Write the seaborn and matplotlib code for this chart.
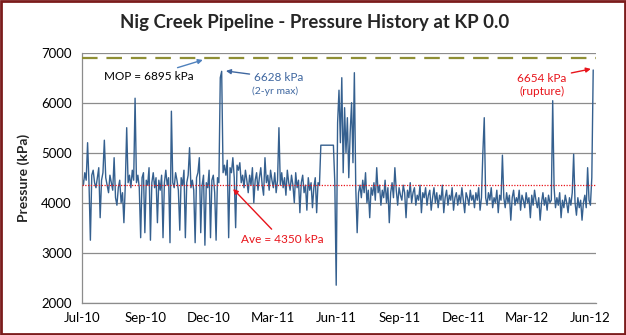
import numpy as np
import pandas as pd
import matplotlib
matplotlib.use("Agg")
import matplotlib.pyplot as plt
from matplotlib.patches import Rectangle
import seaborn as sns

# ---------------- data ----------------
start_date = "2010-07-01"
step_days = 2
pressure = [
    4500, 4350, 4600, 4450, 5200, 4400, 3250, 4550, 4650, 4400,
    4300, 4500, 4700, 3700, 4450, 4600, 5250, 4500, 4350, 4200,
    4550, 4400, 4250, 4900, 4100, 3950, 4300, 4450, 4000, 4200,
    3600, 4350, 5500, 4400, 4550, 4300, 4650, 4450, 6090, 4400,
    4550, 4300, 3300, 4500, 4600, 3400, 4450, 4350, 4700, 3250,
    4400, 4600, 4300, 4500, 3600, 4450, 4250, 4550, 3300, 4400,
    4650, 4350, 4500, 3200, 5830, 4400, 4300, 4600, 4450, 4250,
    3450, 4500, 4350, 4650, 3300, 4400, 4550, 5100, 4300, 4450,
    4250, 3200, 4500, 4600, 4900, 3400, 4350, 4550, 3150, 4400,
    4300, 4650, 3300, 4450, 4550, 4200, 3250, 4500, 4400, 6500,
    6628, 4600, 4750, 4550, 4850, 3300, 4700, 4600, 4900, 4500,
    3500, 4750, 4650, 4800, 4400, 4550, 4300, 4650, 4450, 4200,
    4550, 4350, 4700, 4000, 4450, 4600, 4250, 4500, 4700, 4350,
    4150, 4900, 4400, 4550, 4250, 4650, 4450, 4300, 4600, 4200,
    4450, 5500, 4350, 4600, 4300, 4500, 4150, 4650, 4400, 4250,
    4550, 4350, 4000, 4600, 4300, 4450, 3800, 4400, 4550, 4200,
    4350, 3850, 4500, 4250, 4400, 3900, 4300, 4500, 3800, 4400,
    4350, 5150, 5150, 5150, 5150, 5150, 5150, 5150, 5150, 5150,
    5150, 4400, 2350, 5600, 6250, 5200, 6500, 4600, 5900, 5000,
    5700, 4500, 5400, 6000, 4800, 6600, 4300, 3400, 4200, 4350,
    4100, 4450, 4200, 4600, 4000, 4250, 3700, 4300, 4150, 4400,
    4050, 4700, 4200, 4350, 3950, 4250, 4100, 4450, 4000, 4300,
    3600, 4200, 4400, 4100, 4700, 4250, 3950, 4300, 4150, 4050,
    4350, 4200, 3700, 4250, 4100, 4400, 4000, 4200, 4300, 3950,
    4150, 4050, 4350, 3800, 4200, 4100, 4300, 3950, 4150, 4250,
    3850, 4100, 4300, 4000, 4200, 3900, 4150, 4050, 4350, 3800,
    4100, 4250, 3950, 4150, 4050, 4300, 3850, 4100, 4200, 3950,
    4150, 4000, 4300, 4050, 3800, 4200, 4100, 3950, 4250, 4050,
    4150, 3900, 4200, 4050, 4300, 3850, 4100, 5000, 5700, 4100,
    3950, 4200, 4050, 4300, 3900, 4100, 4000, 4250, 3800, 4150,
    4050, 4950, 4100, 3900, 4200, 4000, 4150, 3650, 4100, 4250,
    3950, 4100, 4000, 4250, 3850, 4150, 4050, 3900, 4200, 4000,
    4100, 3700, 4150, 3950, 4250, 4050, 3900, 4100, 3650, 4000,
    4200, 3950, 4100, 3850, 4150, 4000, 4050, 6040, 4300, 3900,
    4100, 3950, 4200, 3700, 4050, 3900, 4150, 4000, 3800, 4100,
    3950, 4200, 4970, 4000, 3750, 4100, 3900, 4050, 3650, 4000,
    4150, 3900, 4700, 4050, 3950, 4500, 6654,
]
tick_labels = ["Jul-10", "Sep-10", "Dec-10", "Mar-11", "Jun-11",
               "Sep-11", "Dec-11", "Mar-12", "Jun-12"]
mop = 6895
ave = 4350
title = "Nig Creek Pipeline - Pressure History at KP 0.0"

dates = pd.date_range(start_date, periods=len(pressure), freq=f"{step_days}D")
df = pd.DataFrame({"date": dates, "pressure": pressure})
tick_dates = pd.date_range(start_date, periods=len(tick_labels), freq="91D")

# ---------------- style ----------------
sns.set_style("white")
plt.rcParams["font.family"] = ["Lato", "DejaVu Sans"]

fig = plt.figure(figsize=(6.26, 3.35), dpi=100)
ax = fig.add_axes([82 / 626, 1 - 302.7 / 335, 514 / 626, 250 / 335])

sns.lineplot(data=df, x="date", y="pressure", ax=ax, color="#35608F",
             linewidth=1.0)

ax.axhline(mop, color="#8F8F35", lw=1.6, dashes=(7, 4), zorder=3)
ax.axhline(ave, color="#E8141B", lw=0.9, ls=(0, (1, 1.2)), zorder=3)

ax.set_xlim(pd.Timestamp(start_date), pd.Timestamp(start_date) + pd.Timedelta(days=736))
ax.set_ylim(2000, 7000)
ax.set_yticks(range(2000, 7001, 1000))
ax.set_xticks(tick_dates)
ax.set_xticklabels(tick_labels)

ax.grid(axis="y", color="#8C8C8C", lw=0.9)
ax.grid(axis="x", visible=False)
ax.set_axisbelow(True)
for s in ["top", "right"]:
    ax.spines[s].set_visible(False)
for s in ["left", "bottom"]:
    ax.spines[s].set_color("#8C8C8C")
    ax.spines[s].set_linewidth(0.9)
ax.tick_params(axis="both", colors="#8C8C8C", labelcolor="#000000",
               labelsize=9.5, length=4, width=0.9, direction="out")
ax.tick_params(axis="x", pad=3)

ax.set_xlabel("")
ax.set_ylabel("Pressure (kPa)", fontsize=10, fontweight="bold")
ax.yaxis.set_label_coords(-0.101, 0.5)

fig.text(0.503, 0.934, title, ha="center", va="center",
         fontsize=13.4, fontweight="bold")

# annotations
ax.annotate("MOP = 6895 kPa", xy=(0.235, 0.971), xytext=(0.130, 0.905),
            xycoords="axes fraction", textcoords="axes fraction",
            ha="center", va="center", fontsize=8.5, color="black",
            arrowprops=dict(arrowstyle="-|>", color="#4F81BD", lw=1,
                            mutation_scale=7, shrinkA=0, shrinkB=0))
ax.annotate("6628 kPa", xy=(0.280, 0.927), xytext=(0.335, 0.899),
            xycoords="axes fraction", textcoords="axes fraction",
            ha="left", va="center", fontsize=8.5, color="#3F67A0",
            arrowprops=dict(arrowstyle="-|>", color="#3F67A0", lw=1,
                            mutation_scale=7, shrinkA=1, shrinkB=0))
ax.text(0.375, 0.847, "(2-yr max)", transform=ax.transAxes, ha="center",
        va="center", fontsize=7.5, color="#3F67A0")
ax.annotate("6654 kPa", xy=(0.990, 0.935), xytext=(0.895, 0.895),
            xycoords="axes fraction", textcoords="axes fraction",
            ha="center", va="center", fontsize=8.5, color="#E8141B",
            arrowprops=dict(arrowstyle="-|>", color="#E8141B", lw=1,
                            mutation_scale=7, shrinkA=1, shrinkB=0))
ax.text(0.895, 0.843, "(rupture)", transform=ax.transAxes, ha="center",
        va="center", fontsize=8.5, color="#E8141B")
ax.annotate("Ave = 4350 kPa", xy=(0.294, 0.455), xytext=(0.389, 0.251),
            xycoords="axes fraction", textcoords="axes fraction",
            ha="center", va="center", fontsize=8.5, color="#E8141B",
            arrowprops=dict(arrowstyle="-|>", color="#E8141B", lw=1,
                            mutation_scale=7, shrinkA=2, shrinkB=0))

fig.add_artist(Rectangle((0.0016, 0.003), 0.9968, 0.994, transform=fig.transFigure,
                         fill=False, edgecolor="#7B1C1C", lw=2))

fig.savefig("out.png", dpi=100)
